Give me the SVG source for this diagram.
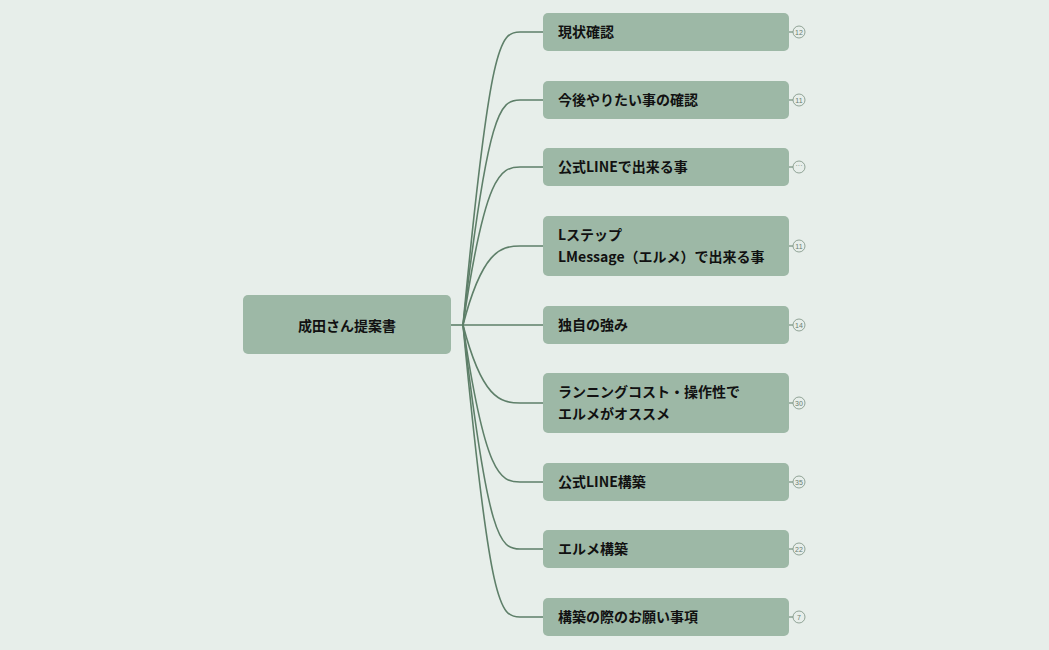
<svg xmlns="http://www.w3.org/2000/svg" width="1049" height="650" viewBox="0 0 1049 650">
<style>
.n{fill:#9db8a6}
.t{font-family:"Noto Sans CJK JP","Noto Sans",sans-serif;font-weight:bold;font-size:14px;fill:#111}
.c{fill:none;stroke:#5e7f69;stroke-width:1.6}
.b{fill:#e7eeea;stroke:#7a8f80;stroke-width:0.8}
.bt{font-family:"Liberation Sans",sans-serif;font-size:7px;fill:#6a7d70;text-anchor:middle}
</style>
<rect width="1049" height="650" fill="#e7eeea"/>
<g id="connectors" class="c">
<path d="M451 325H463"/>
<path d="M463 325C490 40 500 32 520 32H543"/>
<path d="M463 325C488 110 500 100 520 100H543"/>
<path d="M463 325C485 175 500 167 520 167H543"/>
<path d="M463 325C482 252 500 246 520 246H543"/>
<path d="M463 325H543"/>
<path d="M463 325C482 398 500 403 520 403H543"/>
<path d="M463 325C485 475 500 482 520 482H543"/>
<path d="M463 325C488 540 500 549 520 549H543"/>
<path d="M463 325C490 610 500 617 520 617H543"/>
<path d="M789 32h4M789 100h4M789 167h4M789 246h4M789 325h4M789 403h4M789 482h4M789 549h4M789 617h4" stroke-width="1"/>
</g>
<g id="root"><rect class="n" x="243" y="295" width="208" height="59" rx="5"/><text class="t" x="347" y="331" font-size="20" text-anchor="middle">成田さん提案書</text></g>
<g id="n1"><rect class="n" x="543" y="13" width="246" height="38" rx="5"/><text class="t" x="558" y="37">現状確認</text><circle class="b" cx="799" cy="32" r="6"/><text class="bt" x="799" y="34.5">12</text></g>
<g id="n2"><rect class="n" x="543" y="81" width="246" height="38" rx="5"/><text class="t" x="558" y="105">今後やりたい事の確認</text><circle class="b" cx="799" cy="100" r="6"/><text class="bt" x="799" y="102.5">11</text></g>
<g id="n3"><rect class="n" x="543" y="148" width="246" height="38" rx="5"/><text class="t" x="558" y="172">公式LINEで出来る事</text><circle class="b" cx="799" cy="167" r="6"/><text class="bt" x="799" y="168">···</text></g>
<g id="n4"><rect class="n" x="543" y="216" width="246" height="60" rx="5"/><text class="t" x="558" y="240">Lステップ</text><text class="t" x="558" y="262">LMessage（エルメ）で出来る事</text><circle class="b" cx="799" cy="246" r="6"/><text class="bt" x="799" y="248.5">11</text></g>
<g id="n5"><rect class="n" x="543" y="306" width="246" height="38" rx="5"/><text class="t" x="558" y="330">独自の強み</text><circle class="b" cx="799" cy="325" r="6"/><text class="bt" x="799" y="327.5">14</text></g>
<g id="n6"><rect class="n" x="543" y="373" width="246" height="60" rx="5"/><text class="t" x="558" y="397">ランニングコスト・操作性で</text><text class="t" x="558" y="419">エルメがオススメ</text><circle class="b" cx="799" cy="403" r="6"/><text class="bt" x="799" y="405.5">30</text></g>
<g id="n7"><rect class="n" x="543" y="463" width="246" height="38" rx="5"/><text class="t" x="558" y="487">公式LINE構築</text><circle class="b" cx="799" cy="482" r="6"/><text class="bt" x="799" y="484.5">35</text></g>
<g id="n8"><rect class="n" x="543" y="530" width="246" height="38" rx="5"/><text class="t" x="558" y="554">エルメ構築</text><circle class="b" cx="799" cy="549" r="6"/><text class="bt" x="799" y="551.5">22</text></g>
<g id="n9"><rect class="n" x="543" y="598" width="246" height="38" rx="5"/><text class="t" x="558" y="622">構築の際のお願い事項</text><circle class="b" cx="799" cy="617" r="6"/><text class="bt" x="799" y="619.5">7</text></g>
</svg>
